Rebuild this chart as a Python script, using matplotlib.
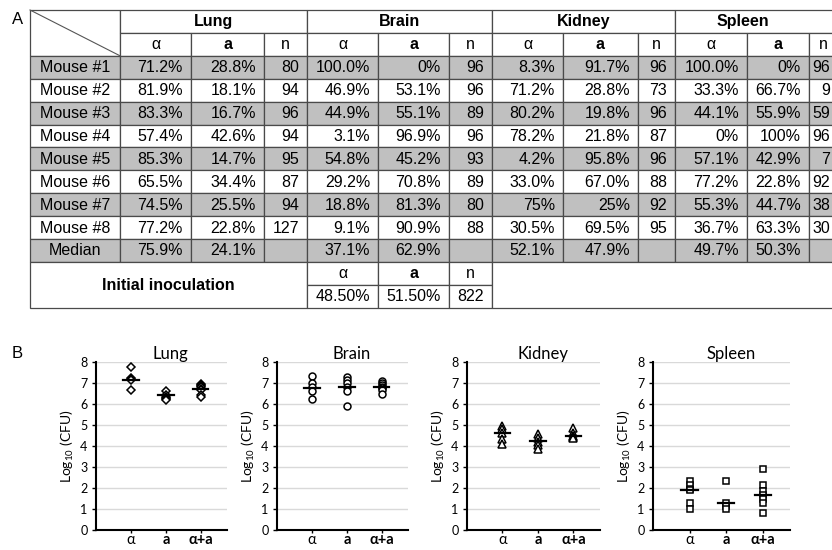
import numpy as np
import matplotlib.pyplot as plt
from matplotlib.patches import Rectangle

# ---------------- panel A data (table) ----------------
organs = ['Lung', 'Brain', 'Kidney', 'Spleen']
mice = ['Mouse #1', 'Mouse #2', 'Mouse #3', 'Mouse #4',
        'Mouse #5', 'Mouse #6', 'Mouse #7', 'Mouse #8']

lung_alpha = ['71.2%', '81.9%', '83.3%', '57.4%', '85.3%', '65.5%', '74.5%', '77.2%']
lung_a = ['28.8%', '18.1%', '16.7%', '42.6%', '14.7%', '34.4%', '25.5%', '22.8%']
lung_n = ['80', '94', '96', '94', '95', '87', '94', '127']

brain_alpha = ['100.0%', '46.9%', '44.9%', '3.1%', '54.8%', '29.2%', '18.8%', '9.1%']
brain_a = ['0%', '53.1%', '55.1%', '96.9%', '45.2%', '70.8%', '81.3%', '90.9%']
brain_n = ['96', '96', '89', '96', '93', '89', '80', '88']

kidney_alpha = ['8.3%', '71.2%', '80.2%', '78.2%', '4.2%', '33.0%', '75%', '30.5%']
kidney_a = ['91.7%', '28.8%', '19.8%', '21.8%', '95.8%', '67.0%', '25%', '69.5%']
kidney_n = ['96', '73', '96', '87', '96', '88', '92', '95']

spleen_alpha = ['100.0%', '33.3%', '44.1%', '0%', '57.1%', '77.2%', '55.3%', '36.7%']
spleen_a = ['0%', '66.7%', '55.9%', '100%', '42.9%', '22.8%', '44.7%', '63.3%']
spleen_n = ['96', '9', '59', '96', '7', '92', '38', '30']

median_alpha = ['75.9%', '37.1%', '52.1%', '49.7%']
median_a = ['24.1%', '62.9%', '47.9%', '50.3%']
init_vals = ['48.50%', '51.50%', '822']
sub_heads = ['α', 'a', 'n']

# ---------------- panel B data (log10 CFU) ----------------
subsets = ['α', 'a', 'α+a']
lung_cfu = [[7.75, 7.25, 7.2, 7.15, 6.68],
            [6.62, 6.45, 6.35, 6.3, 6.22, 6.18],
            [6.95, 6.9, 6.85, 6.8, 6.72, 6.68, 6.42, 6.35]]
lung_med = [7.15, 6.42, 6.7]
brain_cfu = [[7.35, 7.0, 6.8, 6.6, 6.25],
             [7.3, 7.15, 7.0, 6.8, 6.6, 5.9],
             [7.1, 7.0, 6.9, 6.8, 6.75, 6.65, 6.5]]
brain_med = [6.78, 6.8, 6.8]
kidney_cfu = [[4.95, 4.8, 4.6, 4.35, 4.1],
              [4.55, 4.4, 4.2, 4.05, 3.85],
              [4.85, 4.6, 4.5, 4.45, 4.4]]
kidney_med = [4.62, 4.25, 4.5]
spleen_cfu = [[2.35, 2.15, 1.95, 1.9, 1.3, 1.0],
              [2.35, 1.3, 1.15, 1.0],
              [2.9, 2.15, 1.85, 1.65, 1.5, 1.3, 0.8]]
spleen_med = [1.91, 1.27, 1.65]

GRAY = '#c0c0c0'
LINE = '#4a4a4a'
TFONT = ['Liberation Sans', 'DejaVu Sans']
BFONT = ['Lato', 'DejaVu Sans']

fig = plt.figure(figsize=(8.32, 5.5), dpi=100)

# ---------------- table ----------------
tab = fig.add_axes([0, 0, 1, 1])
tab.set_xlim(0, 832)
tab.set_ylim(550, 0)
tab.axis('off')

col_w = [90, 71, 73, 43, 71, 71, 43, 71, 75, 37, 72, 62, 29]
x_edges = 30 + np.concatenate([[0], np.cumsum(col_w)])
row_h = 22.9
y_edges = 10 + row_h * np.arange(14)


def cell(c0, c1, r0, r1, text='', ha='center', shade=False, bold=False, dx=0):
    x0, x1 = x_edges[c0], x_edges[c1]
    y0, y1 = y_edges[r0], y_edges[r1]
    tab.add_patch(Rectangle((x0, y0), x1 - x0, y1 - y0,
                            facecolor=GRAY if shade else 'white',
                            edgecolor=LINE, lw=0.9))
    if text:
        tx = x1 - 8 if ha == 'right' else (x0 + x1) / 2
        tab.text(tx + dx, (y0 + y1) / 2 + 0.5, text, ha=ha, va='center',
                 fontsize=11.5, family=TFONT,
                 fontweight='bold' if bold else 'normal')


# header
cell(0, 1, 0, 2)
tab.plot([x_edges[0], x_edges[1]], [y_edges[0], y_edges[2]], color='#555555', lw=0.8)
for k, organ in enumerate(organs):
    c = 1 + 3 * k
    cell(c, c + 3, 0, 1, organ, bold=True, dx=-14 if organ == 'Spleen' else 0)
    for j, h in enumerate(sub_heads):
        cell(c + j, c + j + 1, 1, 2, h, bold=(h == 'a'))

# mouse rows
cols = [(lung_alpha, lung_a, lung_n), (brain_alpha, brain_a, brain_n),
        (kidney_alpha, kidney_a, kidney_n), (spleen_alpha, spleen_a, spleen_n)]
for i, m in enumerate(mice):
    r = 2 + i
    sh = (i % 2 == 0)
    cell(0, 1, r, r + 1, m, shade=sh)
    for k, (al, aa, nn) in enumerate(cols):
        c = 1 + 3 * k
        cell(c, c + 1, r, r + 1, al[i], ha='right', shade=sh)
        cell(c + 1, c + 2, r, r + 1, aa[i], ha='right', shade=sh)
        cell(c + 2, c + 3, r, r + 1, nn[i], ha='right', shade=sh)

# median row
cell(0, 1, 10, 11, 'Median', shade=True)
for k in range(4):
    c = 1 + 3 * k
    cell(c, c + 1, 10, 11, median_alpha[k], ha='right', shade=True)
    cell(c + 1, c + 2, 10, 11, median_a[k], ha='right', shade=True)
    cell(c + 2, c + 3, 10, 11, '', shade=True)

# initial inoculation
cell(0, 4, 11, 13, 'Initial inoculation', bold=True)
for j, h in enumerate(sub_heads):
    cell(4 + j, 5 + j, 11, 12, h, bold=(h == 'a'))
    cell(4 + j, 5 + j, 12, 13, init_vals[j], ha='right')
cell(7, 13, 11, 13)

fig.text(12 / 832, 1 - 19 / 550, 'A', fontsize=12, family=TFONT, va='center')
fig.text(12 / 832, 1 - 353 / 550, 'B', fontsize=12, family=TFONT, va='center')

# ---------------- scatter panels ----------------
panels = [('Lung', lung_cfu, lung_med, 'D', 4.0),
          ('Brain', brain_cfu, brain_med, 'o', 5.0),
          ('Kidney', kidney_cfu, kidney_med, '^', 5.5),
          ('Spleen', spleen_cfu, spleen_med, 's', 5.0)]
lefts = [96, 277, 467, 653]
widths = [131, 131, 133, 137]
bottom = 1 - 530 / 550
height = (530 - 362) / 550

for (name, vals, meds, mk, ms), l, w in zip(panels, lefts, widths):
    ax = fig.add_axes([l / 832, bottom, w / 832, height])
    for j, v in enumerate(vals):
        ax.plot(np.full(len(v), j + 1), v, linestyle='none', marker=mk,
                markersize=ms, markerfacecolor='white', markeredgecolor='black',
                markeredgewidth=1.1, zorder=3)
        ax.plot([j + 1 - 0.22, j + 1 + 0.22], [meds[j], meds[j]],
                color='black', lw=1.6, zorder=4)
    ax.set_xlim(0, 3.75)
    ax.set_ylim(0, 8)
    ax.set_yticks(range(9))
    ax.set_xticks([1, 2, 3])
    ax.set_xticklabels(subsets, family=BFONT, fontsize=10.5)
    ax.get_xticklabels()[1].set_fontweight('bold')
    ax.get_xticklabels()[2].set_fontweight('bold')
    for t in ax.get_yticklabels():
        t.set_family(BFONT)
        t.set_fontsize(9)
    ax.yaxis.grid(True, color='#d9d9d9', lw=1)
    ax.set_axisbelow(True)
    for s in ['top', 'right']:
        ax.spines[s].set_visible(False)
    ax.spines['left'].set_linewidth(1.5)
    ax.spines['bottom'].set_linewidth(1.5)
    ax.tick_params(axis='y', length=3, width=1, pad=3)
    ax.tick_params(axis='x', length=2, width=1, pad=0.5)
    ax.set_ylabel('Log$_{\\mathregular{10}}$ (CFU)', family=BFONT, fontsize=10, labelpad=3)
    ax.set_title(name, x=0.57, pad=2, family=BFONT, fontsize=12)

fig.savefig('out.png', dpi=100)
